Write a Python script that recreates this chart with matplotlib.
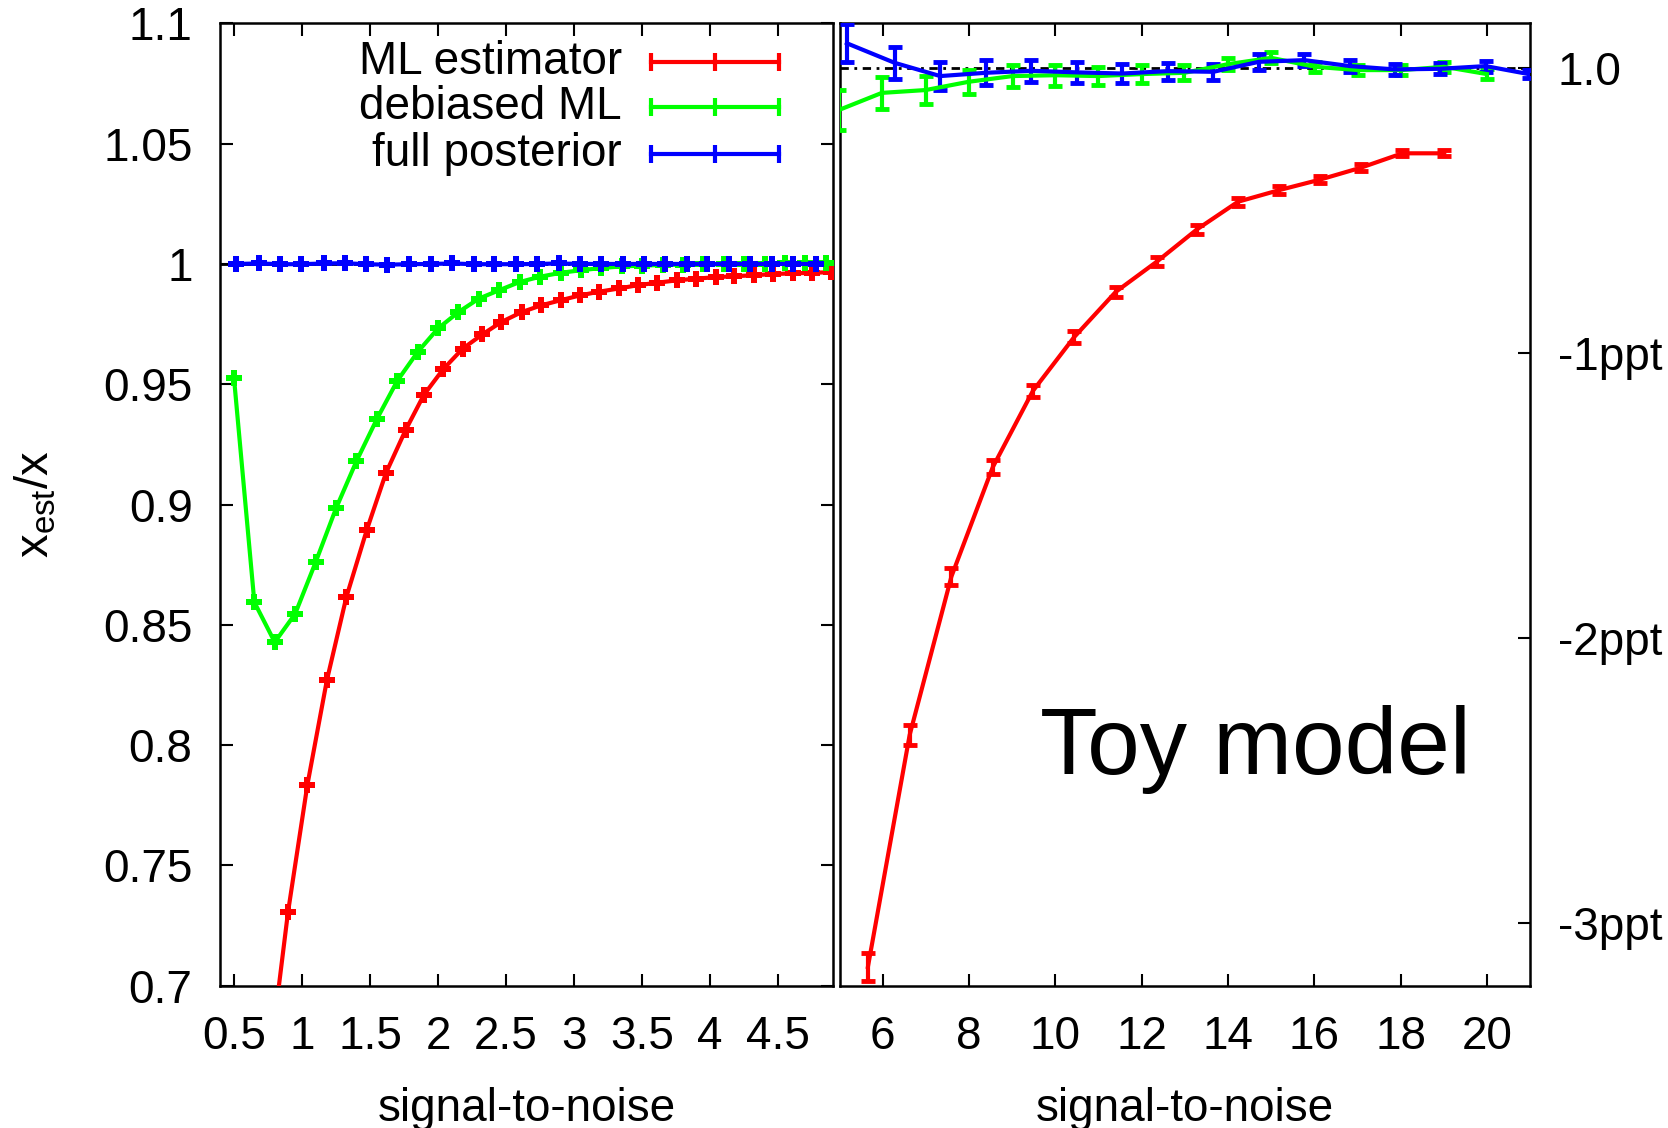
import numpy as np
import matplotlib
matplotlib.use('Agg')
import matplotlib.pyplot as plt

plt.rcParams['font.family'] = ['Liberation Sans', 'DejaVu Sans']
plt.rcParams['mathtext.default'] = 'regular'

# ---- datos panel izquierdo (SNR bajo) ----
red_left_x = [0.754, 0.897, 1.040, 1.183, 1.326, 1.476, 1.617, 1.761, 1.896, 2.037,
              2.181, 2.325, 2.466, 2.615, 2.759, 2.900, 3.042, 3.186, 3.329, 3.471,
              3.612, 3.756, 3.899, 4.040, 4.175, 4.319, 4.460, 4.610, 4.745, 4.888]
red_left_y = [0.665, 0.7305, 0.7836, 0.827, 0.8615, 0.8894, 0.9131, 0.9309, 0.9456, 0.9562,
              0.9648, 0.9707, 0.9759, 0.9800, 0.9828, 0.9849, 0.9869, 0.9885, 0.9898, 0.9912,
              0.9922, 0.9932, 0.9939, 0.9945, 0.9949, 0.9953, 0.9958, 0.9961, 0.9963, 0.9966]
red_left_err = [0.0018] * 30

green_left_x = [0.50, 0.65, 0.80, 0.95, 1.10, 1.25, 1.40, 1.55, 1.70, 1.85,
                2.00, 2.15, 2.30, 2.45, 2.60, 2.75, 2.90, 3.05, 3.20, 3.35,
                3.50, 3.65, 3.80, 3.95, 4.10, 4.25, 4.40, 4.55, 4.70, 4.85]
green_left_y = [0.9528, 0.8594, 0.8428, 0.8546, 0.8760, 0.8984, 0.9180, 0.9355, 0.9514, 0.9634,
                0.9732, 0.9800, 0.9856, 0.9891, 0.9925, 0.9947, 0.9963, 0.9974, 0.9983, 0.9990,
                0.9993, 0.9996, 0.9997, 0.9998, 0.9999, 1.0000, 1.0001, 1.0002, 1.0002, 1.0003]
green_left_err = [0.0018] * 30

blue_left_x = [0.516, 0.681, 0.840, 0.996, 1.161, 1.317, 1.470, 1.626, 1.785, 1.947,
               2.106, 2.262, 2.412, 2.571, 2.730, 2.886, 3.044, 3.200, 3.357, 3.515,
               3.665, 3.830, 3.980, 4.139, 4.295, 4.451, 4.610, 4.775]
blue_left_y = [1.0000, 1.0002, 0.9999, 0.9999, 1.0002, 1.0003, 0.9999, 0.9997, 0.9999, 1.0000,
               1.0002, 0.9999, 0.9999, 0.9999, 1.0000, 1.0002, 1.0000, 1.0000, 1.0000, 1.0000,
               1.0000, 1.0000, 1.0000, 1.0000, 1.0000, 1.0000, 1.0000, 1.0000]
blue_left_err = [0.0018] * 28

# ---- datos panel derecho (SNR alto), desviacion en ppt ----
red_right_x = [5.654, 6.622, 7.59, 8.546, 9.477, 10.434, 11.40, 12.36, 13.28, 14.23,
               15.19, 16.14, 17.09, 18.04, 19.01]
red_right_y = [-3.155, -2.341, -1.785, -1.402, -1.134, -0.945, -0.786, -0.679, -0.567, -0.470,
               -0.429, -0.392, -0.350, -0.300, -0.300]
red_right_err = [0.05, 0.035, 0.03, 0.025, 0.022, 0.02, 0.018, 0.016, 0.015, 0.014,
                 0.013, 0.012, 0.012, 0.011, 0.011]

green_right_x = [4.983, 5.977, 6.995, 7.99, 9.006, 10.0, 10.99, 11.998, 12.99, 14.01,
                 15.0, 16.02, 17.01, 18.02, 19.01, 20.0]
green_right_y = [-0.148, -0.088, -0.078, -0.049, -0.029, -0.026, -0.029, -0.022, -0.0175, 0.013,
                 0.035, 0.0035, -0.008, -0.008, 0.0035, -0.022]
green_right_err = [0.07, 0.057, 0.048, 0.042, 0.038, 0.037, 0.032, 0.031, 0.026, 0.02,
                   0.019, 0.018, 0.018, 0.017, 0.017, 0.017]

blue_right_x = [5.168, 6.274, 7.33, 8.386, 9.44, 10.495, 11.55, 12.606, 13.66, 14.715,
                15.77, 16.83, 17.86, 18.91, 19.97, 20.97]
blue_right_y = [0.086, 0.0175, -0.029, -0.0175, -0.0105, -0.016, -0.02, -0.0116, -0.014, 0.021,
                0.027, 0.006, -0.0056, -0.0035, 0.006, -0.022]
blue_right_err = [0.067, 0.057, 0.049, 0.044, 0.039, 0.037, 0.035, 0.03, 0.029, 0.027,
                  0.022, 0.02, 0.02, 0.019, 0.019, 0.015]

labels = ['ML estimator', 'debiased ML', 'full posterior']
colores = ['#ff0000', '#00ff00', '#0000ff']

left_xticks = [0.5, 1, 1.5, 2, 2.5, 3, 3.5, 4, 4.5]
left_xlabels = ['0.5', '1', '1.5', '2', '2.5', '3', '3.5', '4', '4.5']
left_yticks = [0.7, 0.75, 0.8, 0.85, 0.9, 0.95, 1.0, 1.05, 1.1]
left_ylabels = ['0.7', '0.75', '0.8', '0.85', '0.9', '0.95', '1', '1.05', '1.1']
right_xticks = [6, 8, 10, 12, 14, 16, 18, 20]
right_yticks = [0, -1, -2, -3]
right_ylabels = ['1.0', '-1ppt', '-2ppt', '-3ppt']

fs = 33
lw = 3
fig = plt.figure(figsize=(16.68, 11.28), dpi=100)
ax1 = fig.add_axes([0.1321, 0.1261, 0.3671, 0.8532])
ax2 = fig.add_axes([0.5034, 0.1261, 0.4139, 0.8532])

# panel izquierdo
ax1.axhline(1.0, color='black', lw=2, ls=(0, (3, 2, 1, 2)), zorder=1)
series_left = [(red_left_x, red_left_y, red_left_err),
               (green_left_x, green_left_y, green_left_err),
               (blue_left_x, blue_left_y, blue_left_err)]
for (x, y, e), c in zip(series_left, colores):
    ax1.errorbar(x, y, yerr=e, color=c, lw=lw, elinewidth=3.5, capsize=4.5, capthick=3.5,
                 marker='P', ms=11, mew=0, zorder=3)

ax1.set_xlim(0.4, 4.9)
ax1.set_ylim(0.7, 1.1)
ax1.set_xticks(left_xticks)
ax1.set_xticklabels(left_xlabels)
ax1.set_yticks(left_yticks)
ax1.set_yticklabels(left_ylabels)
ax1.tick_params(axis='both', direction='in', length=9, width=1.5, labelsize=fs,
                top=True, right=True)
ax1.tick_params(axis='y', pad=20)
ax1.tick_params(axis='x', pad=21)
ax1.set_xlabel('signal-to-noise', fontsize=fs, labelpad=20)
ax1.set_ylabel('$x_{est}/x$', fontsize=34, labelpad=32)

# leyenda al estilo gnuplot (texto alineado a la derecha)
leg_y = [0.960, 0.9126, 0.864]
for lab, c, yy in zip(labels, colores, leg_y):
    ax1.text(0.656, yy, lab, transform=ax1.transAxes, ha='right', va='center', fontsize=fs)
    ax1.plot([0.703, 0.912], [yy, yy], transform=ax1.transAxes, color=c, lw=lw)
    ax1.plot([0.703, 0.808, 0.912], [yy, yy, yy], transform=ax1.transAxes, color=c,
             ls='none', marker='|', ms=13, mew=3)

# panel derecho
ax2.axhline(0.0, color='black', lw=2, ls=(0, (3, 2, 1, 2)), zorder=1)
series_right = [(red_right_x, red_right_y, red_right_err),
                (green_right_x, green_right_y, green_right_err),
                (blue_right_x, blue_right_y, blue_right_err)]
for (x, y, e), c in zip(series_right, colores):
    ax2.errorbar(x, y, yerr=e, color=c, lw=lw, elinewidth=3, capsize=5, capthick=3.5,
                 zorder=3, clip_on=True)

ax2.set_xlim(5, 21)
ax2.set_ylim(-3.221, 0.156)
ax2.set_xticks(right_xticks)
ax2.set_yticks(right_yticks)
ax2.set_yticklabels(right_ylabels)
ax2.yaxis.tick_right()
ax2.tick_params(axis='both', direction='in', length=9, width=1.5, labelsize=fs,
                top=True, left=False, right=True, labelleft=False, labelright=True)
ax2.tick_params(axis='y', pad=20)
ax2.tick_params(axis='x', pad=21)
ax2.set_xlabel('signal-to-noise', fontsize=fs, labelpad=20)
ax2.text(0.602, 0.245, 'Toy model', transform=ax2.transAxes, ha='center', va='center',
         fontsize=68)

for ax in (ax1, ax2):
    for s in ax.spines.values():
        s.set_linewidth(1.8)

plt.savefig('out.png', dpi=100)
